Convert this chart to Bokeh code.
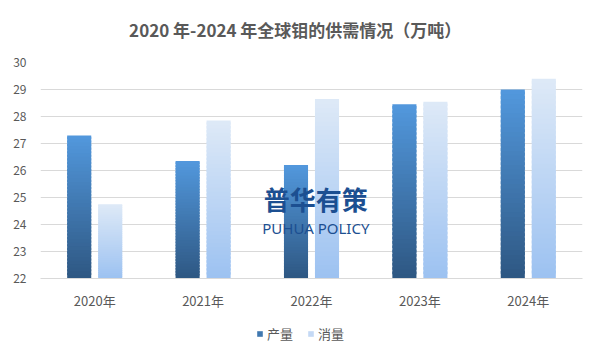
from bokeh.plotting import figure
from bokeh.layouts import column
from bokeh.models import Range1d, FixedTicker, Legend, LegendItem, Label, ColumnDataSource
from bokeh.embed import file_html
from bokeh.resources import INLINE

# ---- data ----
years = ["2020年", "2021年", "2022年", "2023年", "2024年"]
production = [27.3, 26.35, 26.2, 28.45, 29.0]
consumption = [24.75, 27.85, 28.65, 28.55, 29.4]
series_names = ["产量", "消量"]
y_ticks = [22, 23, 24, 25, 26, 27, 28, 29, 30]
title_text = "2020 年-2024 年全球钼的供需情况（万吨）"

FONT = "Noto Sans CJK SC"
GRAY = "#595959"
GRID = "#D9D9D9"
Y0 = 22

# gradient colours (top, bottom)
prod_grad = ((0x52, 0x98, 0xDD), (0x2E, 0x57, 0x82))
cons_grad = ((0xDE, 0xE9, 0xF7), (0x9C, 0xC2, 0xF1))

W = 585
H_TITLE, H_MAIN, H_LEG = 50, 262, 33
LEFT, RIGHT = 40, 3


def strip(height):
    f = figure(width=W, height=height, x_range=Range1d(0, 1), y_range=Range1d(0, 1),
               output_backend="svg", toolbar_location=None,
               min_border_left=LEFT, min_border_right=RIGHT, min_border_top=0, min_border_bottom=0)
    f.axis.visible = False
    f.grid.visible = False
    f.outline_line_color = None
    f.background_fill_color = "white"
    f.border_fill_color = "white"
    return f


# ---- title strip ----
tf = strip(H_TITLE)
tf.add_layout(Label(x=0.47, y=0.43, text=title_text, text_align="center", text_baseline="middle",
                    text_font=FONT, text_font_size="17px", text_font_style="bold", text_color=GRAY))

# ---- main chart ----
p = figure(width=W, height=H_MAIN, x_range=Range1d(-0.5, 4.5), y_range=Range1d(Y0, 30),
           output_backend="svg", toolbar_location=None,
           min_border_left=LEFT, min_border_right=RIGHT, min_border_top=12, min_border_bottom=31)
p.outline_line_color = None
p.background_fill_color = "white"
p.border_fill_color = "white"

p.yaxis.ticker = FixedTicker(ticks=y_ticks)
p.yaxis.axis_line_color = None
p.yaxis.major_tick_line_color = None
p.yaxis.minor_tick_line_color = None
p.yaxis.major_tick_out = 0
p.yaxis.major_tick_in = 0
p.yaxis.major_label_text_font = FONT
p.yaxis.major_label_text_font_size = "12px"
p.yaxis.major_label_text_color = GRAY
p.yaxis.major_label_standoff = 14

p.xaxis.ticker = FixedTicker(ticks=list(range(len(years))))
p.xaxis.major_label_overrides = {i: y for i, y in enumerate(years)}
p.xaxis.axis_line_color = GRID
p.xaxis.major_tick_line_color = None
p.xaxis.minor_tick_line_color = None
p.xaxis.major_tick_out = 0
p.xaxis.major_tick_in = 0
p.xaxis.major_label_text_font = FONT
p.xaxis.major_label_text_font_size = "13px"
p.xaxis.major_label_text_color = GRAY
p.xaxis.major_label_standoff = 12

p.xgrid.grid_line_color = None
p.ygrid.grid_line_color = GRID
p.ygrid.grid_line_width = 1

# gradient bars built from slices
BAR_W = 0.222
OFF = 0.143
N = 40


def lerp(c1, c2, t):
    return "#%02x%02x%02x" % tuple(int(round(a + (b - a) * t)) for a, b in zip(c1, c2))


def slices(values, offset, grad):
    left, right, bottom, top, color = [], [], [], [], []
    top_c, bot_c = grad
    for i, v in enumerate(values):
        h = v - Y0
        for k in range(N):
            b = Y0 + h * k / N
            t = min(v, Y0 + h * (k + 1.6) / N)
            left.append(i + offset - BAR_W / 2)
            right.append(i + offset + BAR_W / 2)
            bottom.append(b)
            top.append(t)
            color.append(lerp(bot_c, top_c, (k + 0.5) / N))
    return ColumnDataSource(dict(left=left, right=right, bottom=bottom, top=top, color=color))


p.quad(left="left", right="right", bottom="bottom", top="top", fill_color="color",
       line_color=None, source=slices(production, -OFF, prod_grad))
p.quad(left="left", right="right", bottom="bottom", top="top", fill_color="color",
       line_color=None, source=slices(consumption, OFF, cons_grad))

# watermark
p.add_layout(Label(x=2.04, y=24.96, text="普华有策", text_align="center", text_baseline="middle",
                   text_font=FONT, text_font_size="26px", text_font_style="bold", text_color="#1C4F91"))
p.add_layout(Label(x=2.04, y=23.87, text="PUHUA POLICY", text_align="center", text_baseline="middle",
                   text_font="Noto Sans", text_font_size="15px", text_color="#1C4F91"))

# ---- legend strip (frame is aligned with the main plot's frame) ----
lg = strip(H_LEG)
# zero-area proxies: they only carry the legend swatch colours
r1 = lg.quad(left=[0], right=[0], bottom=[0], top=[0],
             fill_color=lerp(prod_grad[1], prod_grad[0], 0.5), line_color=None)
r2 = lg.quad(left=[0], right=[0], bottom=[0], top=[0],
             fill_color=lerp(cons_grad[1], cons_grad[0], 0.6), line_color=None)
legend = Legend(items=[LegendItem(label=series_names[0], renderers=[r1]),
                       LegendItem(label=series_names[1], renderers=[r2])],
                orientation="horizontal", location=(256 - LEFT, 2))
legend.glyph_width = 7
legend.glyph_height = 7
legend.label_height = 14
legend.label_standoff = 4
legend.spacing = 14
legend.label_text_font = FONT
legend.label_text_font_size = "13px"
legend.label_text_color = GRAY
legend.border_line_color = None
legend.background_fill_alpha = 0
legend.padding = 0
legend.margin = 0
lg.add_layout(legend, "center")

layout = column(tf, p, lg, spacing=0)
open("out.html", "w").write(file_html(layout, INLINE))
